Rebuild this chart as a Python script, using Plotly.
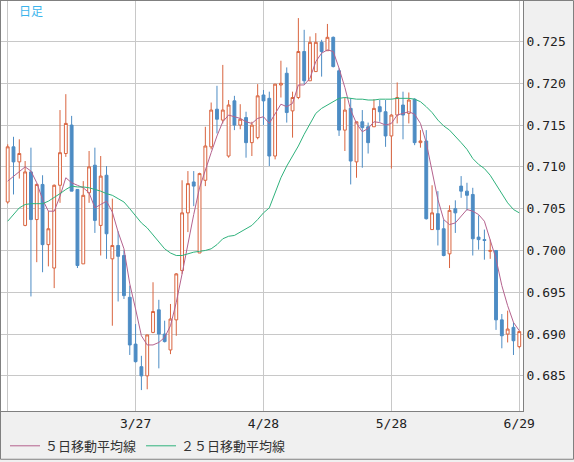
import plotly.graph_objects as go

# daily candles, left to right (89 trading days)
opens = [0.7058, 0.7124, 0.7106, 0.7030, 0.7094, 0.7037, 0.7079, 0.7007, 0.6979, 0.7078,
         0.7116, 0.7150, 0.7073, 0.6984, 0.7069, 0.7102, 0.7030, 0.7090, 0.6990, 0.7006,
         0.6994, 0.6944, 0.6888, 0.6861, 0.6850, 0.6902, 0.6929, 0.6900, 0.6881, 0.6917,
         0.6976, 0.7045, 0.7082, 0.6997, 0.7084, 0.7124, 0.7169, 0.7156, 0.7113, 0.7179,
         0.7150, 0.7159, 0.7129, 0.7135, 0.7186, 0.7182, 0.7113, 0.7198, 0.7212, 0.7167,
         0.7183, 0.7238, 0.7203, 0.7214, 0.7249, 0.7239, 0.7255, 0.7215, 0.7144, 0.7170,
         0.7106, 0.7154, 0.7148, 0.7148, 0.7172, 0.7166, 0.7137, 0.7162, 0.7174, 0.7164,
         0.7181, 0.7129, 0.7131, 0.7025, 0.7044, 0.7026, 0.6996, 0.7050, 0.7077, 0.7071,
         0.7067, 0.7016, 0.7013, 0.6999, 0.7000, 0.6917, 0.6900, 0.6908, 0.6885]
highs = [0.7127, 0.7136, 0.7133, 0.7107, 0.7123, 0.7080, 0.7090, 0.7047, 0.7079, 0.7168,
         0.7187, 0.7161, 0.7073, 0.7083, 0.7119, 0.7123, 0.7113, 0.7101, 0.7062, 0.7023,
         0.7000, 0.6958, 0.6912, 0.6874, 0.6899, 0.6962, 0.6941, 0.6916, 0.6936, 0.6973,
         0.7084, 0.7095, 0.7095, 0.7093, 0.7148, 0.7177, 0.7197, 0.7222, 0.7180, 0.7185,
         0.7175, 0.7166, 0.7154, 0.7199, 0.7192, 0.7190, 0.7199, 0.7227, 0.7219, 0.7190,
         0.7278, 0.7264, 0.7256, 0.7260, 0.7252, 0.7271, 0.7256, 0.7218, 0.7183, 0.7182,
         0.7154, 0.7168, 0.7153, 0.7181, 0.7180, 0.7180, 0.7163, 0.7201, 0.7190, 0.7189,
         0.7182, 0.7144, 0.7144, 0.7078, 0.7071, 0.7037, 0.7054, 0.7060, 0.7089, 0.7081,
         0.7075, 0.7042, 0.7025, 0.7013, 0.7000, 0.6924, 0.6928, 0.6914, 0.6904]
lows = [0.7056, 0.7067, 0.7086, 0.7029, 0.6945, 0.6986, 0.6974, 0.6981, 0.6955, 0.7057,
        0.7112, 0.7071, 0.6979, 0.6984, 0.7057, 0.7021, 0.6994, 0.6990, 0.6910, 0.6939,
        0.6942, 0.6875, 0.6866, 0.6833, 0.6834, 0.6901, 0.6859, 0.6890, 0.6876, 0.6898,
        0.6972, 0.7022, 0.7053, 0.6997, 0.7077, 0.7121, 0.7140, 0.7152, 0.7111, 0.7144,
        0.7145, 0.7111, 0.7113, 0.7133, 0.7150, 0.7101, 0.7109, 0.7183, 0.7153, 0.7135,
        0.7181, 0.7199, 0.7203, 0.7214, 0.7208, 0.7239, 0.7219, 0.7137, 0.7119, 0.7079,
        0.7087, 0.7099, 0.7116, 0.7148, 0.7154, 0.7124, 0.7098, 0.7152, 0.7133, 0.7152,
        0.7126, 0.7123, 0.7037, 0.7025, 0.7006, 0.6993, 0.6979, 0.7021, 0.7063, 0.7048,
        0.6994, 0.7001, 0.6989, 0.6990, 0.6905, 0.6883, 0.6890, 0.6875, 0.6883]
closes = [0.7124, 0.7106, 0.7116, 0.7094, 0.7037, 0.7079, 0.7007, 0.7026, 0.7078, 0.7117,
          0.7152, 0.7071, 0.6982, 0.7066, 0.7100, 0.7036, 0.7089, 0.7020, 0.7006, 0.6993,
          0.6946, 0.6887, 0.6867, 0.6850, 0.6899, 0.6927, 0.6900, 0.6891, 0.6918, 0.6972,
          0.7045, 0.7080, 0.7077, 0.7092, 0.7125, 0.7168, 0.7157, 0.7168, 0.7174, 0.7150,
          0.7157, 0.7129, 0.7150, 0.7185, 0.7179, 0.7113, 0.7199, 0.7200, 0.7165, 0.7183,
          0.7238, 0.7203, 0.7249, 0.7249, 0.7238, 0.7255, 0.7220, 0.7144, 0.7168, 0.7107,
          0.7154, 0.7147, 0.7129, 0.7170, 0.7166, 0.7137, 0.7162, 0.7183, 0.7162, 0.7180,
          0.7129, 0.7131, 0.7038, 0.7045, 0.7025, 0.6994, 0.7048, 0.7045, 0.7071, 0.7066,
          0.7014, 0.7013, 0.7012, 0.7000, 0.6917, 0.6898, 0.6906, 0.6892, 0.6903]

# moving averages as drawn on the chart
ma5 = [0.7083, 0.7089, 0.7095, 0.7100, 0.7095, 0.7081, 0.7061, 0.7047, 0.7047, 0.7065,
       0.7087, 0.7081, 0.7078, 0.7075, 0.7069, 0.7051, 0.7055, 0.7059, 0.7046, 0.7022,
       0.7002, 0.6960, 0.6930, 0.6898, 0.6887, 0.6887, 0.6890, 0.6896, 0.6910, 0.6938,
       0.6972, 0.7010, 0.7043, 0.7075, 0.7097, 0.7117, 0.7137, 0.7154, 0.7162, 0.7160,
       0.7158, 0.7154, 0.7152, 0.7158, 0.7160, 0.7152, 0.7164, 0.7175, 0.7172, 0.7176,
       0.7198, 0.7198, 0.7206, 0.7226, 0.7236, 0.7240, 0.7238, 0.7218, 0.7195, 0.7168,
       0.7152, 0.7142, 0.7146, 0.7154, 0.7153, 0.7150, 0.7152, 0.7162, 0.7164, 0.7166,
       0.7163, 0.7152, 0.7129, 0.7093, 0.7061, 0.7037, 0.7031, 0.7033, 0.7041, 0.7049,
       0.7047, 0.7043, 0.7035, 0.7013, 0.6990, 0.6958, 0.6934, 0.6914, 0.6904]
ma25 = [0.7035, 0.7043, 0.7051, 0.7055, 0.7056, 0.7056, 0.7056, 0.7059, 0.7063, 0.7068,
        0.7073, 0.7077, 0.7076, 0.7076, 0.7075, 0.7073, 0.7071, 0.7068, 0.7066, 0.7062,
        0.7058, 0.7050, 0.7042, 0.7033, 0.7027, 0.7019, 0.7010, 0.7002, 0.6997, 0.6994,
        0.6994, 0.6996, 0.6998, 0.6999, 0.7000, 0.7002, 0.7007, 0.7014, 0.7017, 0.7018,
        0.7022, 0.7025, 0.7030, 0.7037, 0.7045, 0.7051, 0.7069, 0.7087, 0.7101, 0.7113,
        0.7125, 0.7139, 0.7152, 0.7164, 0.7170, 0.7174, 0.7179, 0.7182, 0.7183, 0.7182,
        0.7181, 0.7181, 0.7180, 0.7180, 0.7181, 0.7181, 0.7181, 0.7182, 0.7182, 0.7182,
        0.7181, 0.7178, 0.7172, 0.7165, 0.7156, 0.7149, 0.7144, 0.7137, 0.7129, 0.7121,
        0.7110, 0.7103, 0.7098, 0.7090, 0.7079, 0.7067, 0.7057, 0.7049, 0.7045]

x_tick_pos = [0, 22, 44, 66, 88]
x_tick_text = ["", "3/27", "4/28", "5/28", "6/29"]
y_ticks = [0.685, 0.690, 0.695, 0.700, 0.705, 0.710, 0.715, 0.720, 0.725]

RED = "#d9643f"
BLUE = "#4d8cc4"
PINK = "#b4628e"
GREEN = "#2fb27c"
FRAME = "#808080"
MONO = "DejaVu Sans Mono"
JP = "Noto Sans CJK JP"

idx = list(range(len(closes)))

fig = go.Figure()
fig.add_trace(go.Candlestick(
    x=idx, open=opens, high=highs, low=lows, close=closes,
    increasing=dict(line=dict(color=RED, width=1), fillcolor="white"),
    decreasing=dict(line=dict(color=BLUE, width=1), fillcolor=BLUE),
    whiskerwidth=0, showlegend=False, hoverinfo="skip",
))
fig.add_trace(go.Scatter(x=idx, y=ma5, mode="lines", name="５日移動平均線",
                         line=dict(color=PINK, width=1)))
fig.add_trace(go.Scatter(x=idx, y=ma25, mode="lines", name="２５日移動平均線",
                         line=dict(color=GREEN, width=1)))

W, H = 574, 462
ML, MR, MT, MB = 1, 51, 1, 49
pw, ph = W - ML - MR, H - MT - MB

fig.update_layout(
    width=W, height=H,
    margin=dict(l=ML, r=MR, t=MT, b=MB, pad=0),
    paper_bgcolor="#f0f0f0",
    plot_bgcolor="white",
    font=dict(family=MONO, size=13, color="#222"),
    showlegend=True,
    legend=dict(orientation="h", x=4 / pw, y=-0.085, xanchor="left", yanchor="middle",
                font=dict(family=JP, size=13, color="#333"),
                bgcolor="rgba(0,0,0,0)", itemclick=False),
    annotations=[dict(text="日足", xref="paper", yref="paper", x=16 / pw, y=1 - 10 / ph,
                      xanchor="left", yanchor="middle", showarrow=False,
                      font=dict(family=JP, size=12, color="#3bb4ec"))],
    shapes=[dict(type="rect", xref="paper", yref="paper", layer="above",
                 x0=-0.5 / pw, x1=(W - ML - 0.5) / pw,
                 y0=1 - (H - MT - 0.5) / ph, y1=1 + 0.5 / ph,
                 line=dict(color=FRAME, width=1))],
)
fig.update_xaxes(
    range=[-1.15, 88.64], tickvals=x_tick_pos, ticktext=x_tick_text,
    showgrid=True, gridcolor="#c8c8c8", gridwidth=1, zeroline=False,
    showline=True, mirror=True, linecolor=FRAME, linewidth=1,
    ticks="", rangeslider=dict(visible=False), fixedrange=True,
)
fig.update_yaxes(
    range=[0.680798, 0.729845], side="right", tickvals=y_ticks, tickformat=".3f",
    showgrid=True, gridcolor="#c8c8c8", gridwidth=1, zeroline=False,
    showline=True, mirror=True, linecolor=FRAME, linewidth=1,
    ticks="", fixedrange=True,
)

# the page body has a default 8px margin; drop it so the chart sits at 0,0
fig.write_html("out.html", config={"displayModeBar": False},
               post_script="document.body.style.margin='0';")
